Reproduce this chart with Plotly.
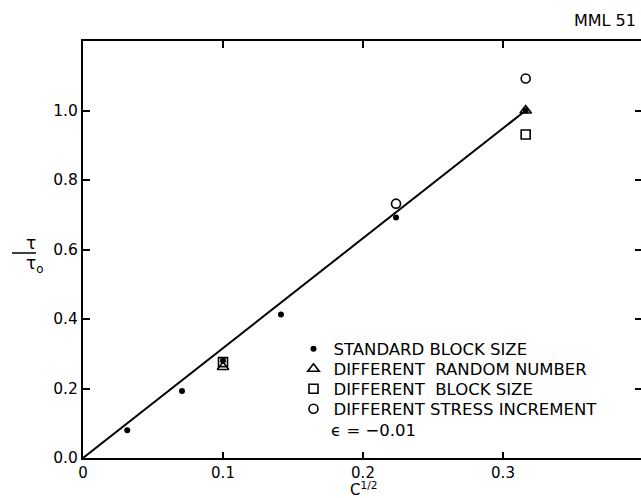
import plotly.graph_objects as go

# data (x = c^(1/2), y = tau/tau0)
std_x = [0.0316, 0.0707, 0.1, 0.1414, 0.2236, 0.3162]
std_y = [0.08, 0.193, 0.28, 0.413, 0.692, 1.0]
rnd_x = [0.1, 0.3162]
rnd_y = [0.262, 1.0]
blk_x = [0.1, 0.3162]
blk_y = [0.276, 0.931]
str_x = [0.2236, 0.3162]
str_y = [0.732, 1.092]
fit_x = [0.0, 0.3162]
fit_y = [0.0, 1.0]

legend_names = ["STANDARD BLOCK SIZE", "DIFFERENT  RANDOM NUMBER",
                "DIFFERENT  BLOCK SIZE", "DIFFERENT STRESS INCREMENT"]
xticks = [0, 0.1, 0.2, 0.3]
xticklabels = ["0", "0.1", "0.2", "0.3"]
yticks = [0.0, 0.2, 0.4, 0.6, 0.8, 1.0]
yticklabels = ["0.0", "0.2", "0.4", "0.6", "0.8", "1.0"]

FONT = "DejaVu Sans"
L, T, B, W, H = 83, 41, 40, 641, 498
PW, PH = W - L, H - T - B


def px(xp):
    return (xp - L) / PW


def py(yp):
    return (H - B - yp) / PH


fig = go.Figure()
fig.add_trace(go.Scatter(x=fit_x, y=fit_y, mode="lines",
                         line=dict(color="black", width=2), showlegend=False,
                         hoverinfo="skip"))
fig.add_trace(go.Scatter(x=std_x, y=std_y, mode="markers", name=legend_names[0],
                         legend="legend",
                         marker=dict(symbol="circle", size=6, color="black")))
fig.add_trace(go.Scatter(x=rnd_x, y=rnd_y, mode="markers", name=legend_names[1],
                         legend="legend2",
                         marker=dict(symbol="triangle-up-open", size=10, color="black",
                                     line=dict(width=1.6, color="black"))))
fig.add_trace(go.Scatter(x=blk_x, y=blk_y, mode="markers", name=legend_names[2],
                         legend="legend3",
                         marker=dict(symbol="square-open", size=9, color="black",
                                     line=dict(width=1.6, color="black"))))
fig.add_trace(go.Scatter(x=str_x, y=str_y, mode="markers", name=legend_names[3],
                         legend="legend4",
                         marker=dict(symbol="circle-open", size=9, color="black",
                                     line=dict(width=1.6, color="black"))))
fig.add_trace(go.Scatter(x=[None], y=[None], xaxis="x2", yaxis="y2",
                         showlegend=False, hoverinfo="skip"))

XR = [0, PW / 1400.0]
YR = [0, 1.2]
leg_rows = [349, 369, 389, 409]
LEGX = px(293.5)


def leg(yrow):
    return dict(x=LEGX, y=py(yrow), xanchor="left", yanchor="middle",
                bgcolor="rgba(0,0,0,0)", font=dict(family=FONT, size=16.5),
                itemwidth=30, borderwidth=0)


fig.update_layout(
    width=W, height=H,
    margin=dict(l=L, r=0, t=T, b=B),
    paper_bgcolor="white", plot_bgcolor="white",
    font=dict(family=FONT, size=15, color="black"),
    xaxis=dict(range=XR, tickvals=xticks, ticktext=xticklabels, ticks="inside",
               ticklen=6, tickwidth=1.5, tickcolor="black", showline=True,
               linecolor="black", linewidth=2, showgrid=False, zeroline=False,
               tickfont=dict(size=15)),
    yaxis=dict(range=YR, tickvals=yticks, ticktext=yticklabels, ticks="inside",
               ticklen=7, tickwidth=1.5, tickcolor="black", showline=True,
               linecolor="black", linewidth=2, showgrid=False, zeroline=False,
               tickfont=dict(size=15.5)),
    xaxis2=dict(range=XR, overlaying="x", side="top", matches="x",
                tickvals=[0.1, 0.2, 0.3], ticks="inside", ticklen=7, tickwidth=1.5,
                tickcolor="black", showticklabels=False, showline=True,
                linecolor="black", linewidth=2, showgrid=False, zeroline=False),
    yaxis2=dict(range=YR, overlaying="y", side="right", matches="y",
                tickvals=[0.2, 0.4, 0.6, 0.8, 1.0], ticks="inside", ticklen=6,
                tickwidth=1.5, tickcolor="black", showticklabels=False,
                showline=False, showgrid=False, zeroline=False),
    showlegend=True,
    legend=leg(leg_rows[0]),
    legend2=leg(leg_rows[1]),
    legend3=leg(leg_rows[2]),
    legend4=leg(leg_rows[3]),
)

# x axis title
fig.add_annotation(x=0.2, y=py(489), xref="x", yref="paper",
                   text="C<sup style='font-size:11px'>1/2</sup>",
                   showarrow=False, font=dict(size=15), yanchor="middle")
# epsilon line below legend
fig.add_annotation(x=px(329), y=py(430), xref="paper", yref="paper",
                   text="ϵ = −0.01", showarrow=False, xanchor="left", yanchor="middle",
                   font=dict(size=16.5))
# y label fraction
fig.add_annotation(x=px(24), y=py(243), xref="paper", yref="paper",
                   text="τ", showarrow=False, font=dict(size=17))
fig.add_annotation(x=px(24), y=py(264), xref="paper", yref="paper",
                   text="τ<sub>o</sub>", showarrow=False, font=dict(size=17))
fig.add_shape(type="line", xref="paper", yref="paper",
              x0=px(12), x1=px(36), y0=py(253), y1=py(253),
              line=dict(color="black", width=1.5))
fig.add_annotation(x=px(572), y=py(20), xref="paper", yref="paper",
                   text="MML 51", showarrow=False, xanchor="left", yanchor="middle",
                   font=dict(size=16))

fig.write_html("out.html")
